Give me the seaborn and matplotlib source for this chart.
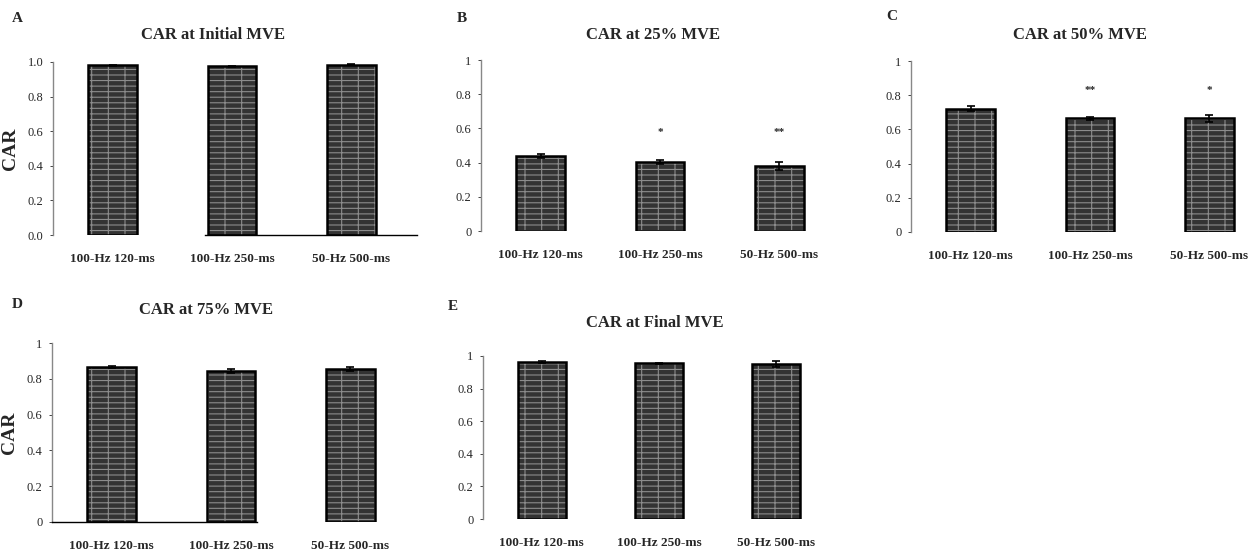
import pandas as pd
import seaborn as sns
from matplotlib import pyplot as plt

# stimulation conditions (same three in every panel)
conditions = ["100-Hz 120-ms", "100-Hz 250-ms", "50-Hz 500-ms"]

# CAR means and error
car_initial = [0.980, 0.975, 0.985]
err_initial = [0.004, 0.004, 0.004]
car_25 = [0.440, 0.405, 0.380]
err_25 = [0.012, 0.012, 0.022]
car_50 = [0.720, 0.665, 0.665]
err_50 = [0.015, 0.010, 0.020]
car_75 = [0.865, 0.845, 0.855]
err_75 = [0.004, 0.010, 0.012]
car_final = [0.965, 0.955, 0.950]
err_final = [0.005, 0.005, 0.018]

stars_25 = ["", "*", "**"]
stars_50 = ["", "**", "*"]

sns.set_style("white")
plt.rcParams["font.family"] = ["Liberation Serif", "DejaVu Serif"]
plt.rcParams["hatch.linewidth"] = 0.8

W, H = 1259, 551
fig = plt.figure(figsize=(W / 100, H / 100), dpi=100)

# letter, title, values, errors, stars, star level,
# axes box in px (left, top, bottom, width), y-label, bottom spine span,
# letter pos px, title pos px
panels = [
    ("A", "CAR at Initial MVE", car_initial, err_initial, None, None,
     (53, 62, 235, 352), True, (0.77, 2.55), (17, 18), (213, 35)),
    ("B", "CAR at 25% MVE", car_25, err_25, stars_25, 0.575,
     (481, 60, 231, 352), False, None, (462, 18), (653, 35)),
    ("C", "CAR at 50% MVE", car_50, err_50, stars_50, 0.83,
     (911, 61, 232, 352), False, None, (892, 16), (1080, 35)),
    ("D", "CAR at 75% MVE", car_75, err_75, None, None,
     (52, 343, 522, 352), True, (-0.5, 1.22), (17, 305), (206, 310)),
    ("E", "CAR at Final MVE", car_final, err_final, None, None,
     (483, 356, 519, 346), False, None, (453, 307), (655, 323)),
]

face = "#333333"
grid = "#8c8c8c"

for (letter, title, vals, errs, stars, star_y, (left, top, bottom, ax_w),
     ylab, span, (lx, ly), (tx, ty)) in panels:
    ax = fig.add_axes([left / W, 1 - bottom / H, ax_w / W, (bottom - top) / H])
    df = pd.DataFrame({"condition": conditions, "car": vals})

    # textured fill (hatch drawn in edge colour), then black outline on top
    sns.barplot(data=df, x="condition", y="car", order=conditions, color=face,
                saturation=1, edgecolor=grid, linewidth=0, hatch="+--",
                width=0.41, errorbar=None, ax=ax)
    sns.barplot(data=df, x="condition", y="car", order=conditions, color="black",
                fill=False, linewidth=1.8, width=0.41, errorbar=None, ax=ax)
    ax.errorbar(range(len(conditions)), vals, yerr=errs, fmt="none",
                ecolor="black", elinewidth=1.2, capsize=3, capthick=1.2)

    if stars is not None:
        for i, s in enumerate(stars):
            if s:
                ax.text(i, star_y, s, ha="center", va="center", fontsize=8,
                        fontweight="bold")

    ax.set_xlim(-0.5, 2.45)
    ax.set_ylim(0, 1)
    yt = [0, 0.2, 0.4, 0.6, 0.8, 1.0]
    ax.set_yticks(yt)
    if letter == "A":
        ax.set_yticklabels([f"{v:.1f}" for v in yt])
    else:
        ax.set_yticklabels(["0", "0.2", "0.4", "0.6", "0.8", "1"])
    ax.tick_params(axis="y", length=2, width=0.6, pad=5, labelsize=9, left=True)
    ax.tick_params(axis="x", length=0, pad=13, labelsize=9.5)
    for lab in ax.get_xticklabels():
        lab.set_fontweight("bold")

    ax.set_xlabel("")
    if ylab:
        ax.set_ylabel("CAR", fontsize=14, fontweight="bold", labelpad=6)
    else:
        ax.set_ylabel("")

    sns.despine(ax=ax)
    ax.spines["left"].set_color("#888888")
    ax.spines["left"].set_linewidth(1.0)
    if span is None:
        ax.spines["bottom"].set_visible(False)
    else:
        ax.spines["bottom"].set_bounds(*span)
        ax.spines["bottom"].set_color("black")
        ax.spines["bottom"].set_linewidth(1.0)

    fig.text(tx / W, 1 - ty / H, title, fontsize=12, fontweight="bold",
             ha="center", va="center")
    fig.text(lx / W, 1 - ly / H, letter, fontsize=11, fontweight="bold",
             ha="center", va="center")

fig.savefig("out.png", dpi=100)
